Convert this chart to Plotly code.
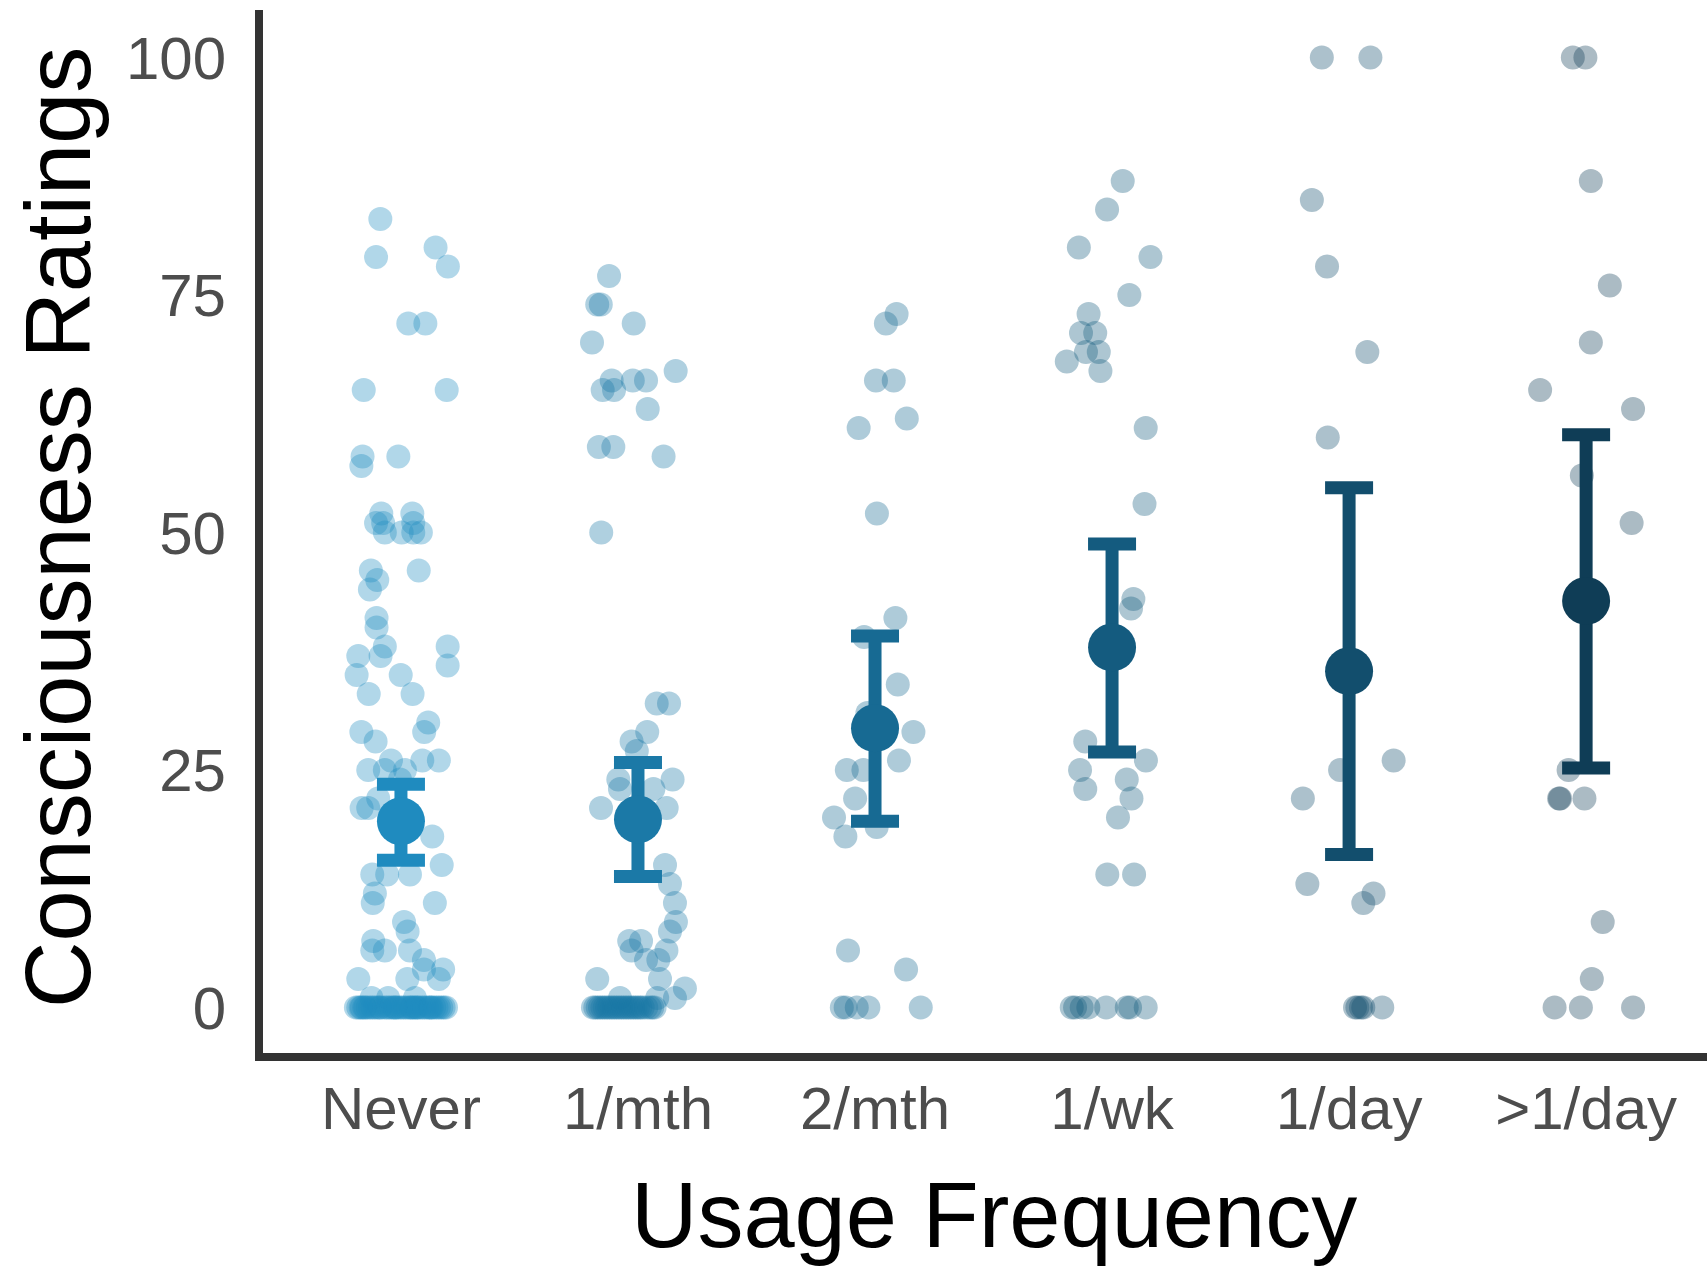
import plotly.graph_objects as go

# Usage-frequency groups shown along the x axis
categories = ["Never", "1/mth", "2/mth", "1/wk", "1/day", ">1/day"]

# Individual consciousness ratings (0-100) per group, with their horizontal jitter
never_values = [83, 79, 80, 78, 72, 72, 65, 65, 58, 57, 58, 52, 52, 51, 51, 51,
                50, 50, 50, 50, 46, 46, 45, 44, 41, 40, 38, 37, 37, 35, 35, 38,
                36, 33, 33, 30, 29, 29, 28, 26, 25, 25, 25, 26, 26, 24, 22, 21,
                21, 18, 15, 14, 14, 14, 12, 11, 11, 9, 8, 7, 6, 6, 6, 5, 4, 4,
                3, 3, 3, 1, 1, 1,
                0, 0, 0, 0, 0, 0, 0, 0, 0, 0, 0, 0, 0, 0, 0, 0, 0, 0, 0, 0, 0, 0,
                0, 0, 0, 0, 0, 0, 0, 0, 0, 0, 0, 0, 0, 0, 0, 0, 0, 0, 0, 0, 0, 0]
never_jitter = [-0.087, -0.105, 0.146, 0.198, 0.031, 0.103, -0.157, 0.193, -0.162,
                -0.167, -0.011, -0.083, 0.048, -0.105, -0.075, 0.052, -0.068, 0.003,
                0.052, 0.084, -0.127, 0.075, -0.100, -0.131, -0.103, -0.103, -0.068,
                -0.086, -0.180, -0.187, -0.001, 0.197, 0.197, -0.136, 0.049, 0.115,
                0.098, -0.167, -0.107, -0.042, -0.138, -0.068, 0.017, 0.090, 0.160,
                -0.004, -0.096, -0.166, -0.138, 0.132, 0.172, -0.121, -0.058, 0.038,
                -0.110, -0.119, 0.143, 0.013, 0.028, -0.117, -0.121, -0.068, 0.038,
                0.097, 0.097, 0.178, 0.160, -0.180, 0.027, -0.124, -0.054, 0.059,
                -0.19, -0.18, -0.17, -0.165, -0.15, -0.14, -0.13, -0.12, -0.11, -0.10,
                -0.09, -0.085, -0.07, -0.06, -0.05, -0.04, -0.03, -0.02, -0.01, 0.0,
                0.01, 0.02, 0.03, 0.04, 0.05, 0.06, 0.065, 0.07, 0.08, 0.09, 0.10,
                0.11, 0.12, 0.13, 0.14, 0.15, 0.16, 0.17, 0.18, 0.19, -0.155, 0.045,
                0.125, -0.025]

month1_values = [77, 74, 74, 72, 70, 67, 66, 66, 66, 65, 65, 63, 59, 59, 58, 50,
                 32, 32, 29, 28, 27, 24, 23, 24, 23, 21, 21, 15, 13, 11, 9, 8, 7,
                 7, 6, 5, 5, 6, 3, 3, 1, 2, 1, 1,
                 0, 0, 0, 0, 0, 0, 0, 0, 0, 0, 0, 0, 0, 0, 0, 0, 0, 0, 0, 0, 0, 0,
                 0, 0, 0, 0]
month1_jitter = [-0.122, -0.172, -0.157, -0.018, -0.194, 0.159, -0.111, -0.022,
                 0.034, -0.149, -0.101, 0.041, -0.165, -0.104, 0.108, -0.155,
                 0.079, 0.131, 0.039, -0.027, -0.005, -0.083, -0.076, 0.146, 0.065,
                 -0.156, 0.121, 0.114, 0.135, 0.156, 0.160, 0.135, -0.037, 0.013,
                 -0.027, 0.034, 0.086, 0.120, 0.093, -0.172, -0.076, 0.198, 0.156,
                 0.081,
                 -0.19, -0.18, -0.17, -0.16, -0.15, -0.14, -0.13, -0.12, -0.11, -0.10,
                 -0.09, -0.08, -0.07, -0.06, -0.05, -0.04, -0.03, -0.02, -0.01, 0.0,
                 0.01, 0.02, 0.035, 0.05, 0.06, 0.07]

month2_values = [73, 72, 66, 66, 61, 62, 52, 41, 39, 34, 31, 29, 26, 25, 25, 22,
                 20, 19, 18, 6, 4, 0, 0, 0, 0, 0]
month2_jitter = [0.091, 0.046, 0.004, 0.079, -0.069, 0.134, 0.008, 0.086, -0.046,
                 0.096, -0.032, 0.162, 0.101, -0.119, -0.049, -0.084, -0.173, 0.007,
                 -0.125, -0.114, 0.131, -0.140, -0.124, -0.077, -0.028, 0.193]

week1_values = [87, 84, 80, 79, 75, 73, 71, 71, 69, 69, 68, 67, 61, 53, 43, 42,
                28, 26, 25, 24, 23, 22, 20, 14, 14, 0, 0, 0, 0, 0, 0, 0, 0]
week1_jitter = [0.045, -0.021, -0.140, 0.162, 0.073, -0.099, -0.131, -0.071,
                -0.110, -0.056, -0.191, -0.049, 0.142, 0.137, 0.090, 0.080,
                -0.113, 0.143, -0.135, 0.062, -0.113, 0.082, 0.025, -0.020, 0.093,
                -0.156, -0.128, -0.100, -0.025, 0.062, 0.076, 0.142, -0.170]

day1_values = [100, 100, 85, 78, 69, 60, 25, 26, 22, 13, 12, 11, 0, 0, 0, 0, 0]
day1_jitter = [-0.115, 0.090, -0.157, -0.093, 0.077, -0.090, -0.038, 0.188,
               -0.195, -0.176, 0.103, 0.060, 0.025, 0.035, 0.050, 0.060, 0.140]

daymore_values = [100, 100, 87, 76, 70, 65, 63, 56, 51, 25, 22, 22, 22, 9, 3, 0, 0, 0]
daymore_jitter = [-0.056, -0.003, 0.020, 0.100, 0.020, -0.194, 0.198, -0.018,
                  0.192, -0.074, -0.114, -0.110, -0.007, 0.070, 0.024, -0.133,
                  -0.022, 0.198]

# Group means with 95% confidence limits
means = [19.6, 19.8, 29.4, 37.9, 35.4, 42.8]
ci_low = [15.5, 13.8, 19.6, 26.9, 16.1, 25.2]
ci_high = [23.5, 25.8, 39.1, 48.8, 54.7, 60.3]

# Blue ramp, light to dark with increasing usage
colors = ["#1f8bbf", "#1b79a7", "#176a93", "#145b7f", "#124e6d", "#0f3d56"]

groups = [
    (never_values, never_jitter),
    (month1_values, month1_jitter),
    (month2_values, month2_jitter),
    (week1_values, week1_jitter),
    (day1_values, day1_jitter),
    (daymore_values, daymore_jitter),
]

FONT = "Liberation Sans, Arial, Helvetica, sans-serif"

fig = go.Figure()

# Jittered raw ratings
for i, (vals, jit) in enumerate(groups):
    fig.add_trace(go.Scatter(
        x=[i + j for j in jit],
        y=vals,
        mode="markers",
        marker=dict(size=24, color=colors[i], opacity=0.35, line=dict(width=0)),
        hoverinfo="skip",
        showlegend=False,
    ))

# Means with confidence-interval error bars
for i, cat in enumerate(categories):
    fig.add_trace(go.Scatter(
        x=[i],
        y=[means[i]],
        mode="markers",
        marker=dict(size=48, color=colors[i], line=dict(width=0)),
        error_y=dict(
            type="data",
            symmetric=False,
            array=[ci_high[i] - means[i]],
            arrayminus=[means[i] - ci_low[i]],
            color=colors[i],
            thickness=13,
            width=24,
        ),
        name=cat,
        showlegend=False,
    ))

W, H = 1707, 1268
ML, MR, MT, MB = 263, 0, 10, 215
plot_w = W - ML - MR
plot_h = H - MT - MB

axis_common = dict(
    showline=True,
    linewidth=8,
    linecolor="#333333",
    showgrid=False,
    zeroline=False,
    ticks="",
    tickfont=dict(family=FONT, size=60, color="#4d4d4d"),
)

fig.update_layout(
    width=W,
    height=H,
    margin=dict(l=ML, r=MR, t=MT, b=MB),
    paper_bgcolor="white",
    plot_bgcolor="white",
    font=dict(family=FONT),
    xaxis=dict(
        range=[-0.582, 5.51],
        tickmode="array",
        tickvals=list(range(len(categories))),
        ticktext=categories,
        ticklabelstandoff=-4,
        **axis_common,
    ),
    yaxis=dict(
        range=[-4.79, 105],
        tickmode="array",
        tickvals=[0, 25, 50, 75, 100],
        ticktext=["0", "25", "50", "75", "100"],
        ticklabelstandoff=17,
        **axis_common,
    ),
)

# Axis titles
fig.add_annotation(
    text="Usage Frequency",
    x=2.5, xref="x",
    y=(MT + plot_h - 1215) / plot_h, yref="paper",
    xanchor="center", yanchor="middle",
    showarrow=False,
    font=dict(family=FONT, size=92, color="black"),
)
fig.add_annotation(
    text="Consciousness Ratings",
    x=(58 - ML) / plot_w, xref="paper",
    y=(MT + plot_h - 528) / plot_h, yref="paper",
    xanchor="center", yanchor="middle",
    textangle=-90,
    showarrow=False,
    font=dict(family=FONT, size=92, color="black"),
)

fig.write_html("out.html")
